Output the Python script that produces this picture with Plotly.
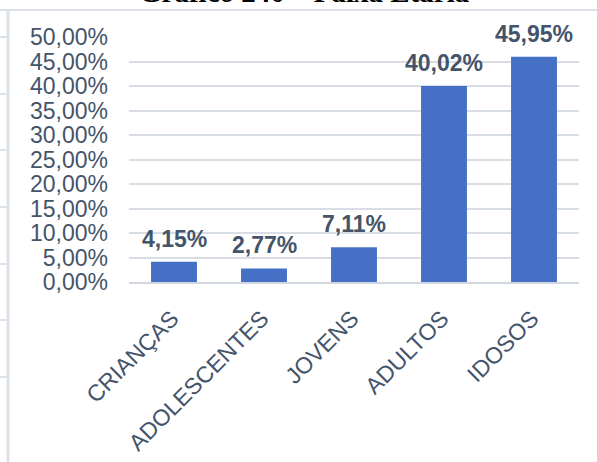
import plotly.graph_objects as go

categories = ["CRIANÇAS", "ADOLESCENTES", "JOVENS", "ADULTOS", "IDOSOS"]
values = [4.15, 2.77, 7.11, 40.02, 45.95]
title_text = "Gráfico 240 – Faixa Etária"

W, H = 597, 462
ML, MR, MT, MB = 129, 18, 37, 180
PW, PH = W - ML - MR, H - MT - MB

def px_x(px):
    return (px - ML) / PW

def px_y(py):
    return 1 - (py - MT) / PH

TEXT = "#44546A"
GRID = "#D9DEE6"
DECOR = "#DCE1E8"
BAR = "#4670C6"

fig = go.Figure()
fig.add_trace(go.Bar(
    x=categories, y=values,
    marker=dict(color=BAR, line=dict(width=0)),
    hoverinfo="skip",
))

annotations = []
for c, v in zip(categories, values):
    annotations.append(dict(
        x=c, y=v, xref="x", yref="y", text=f"{v:.2f}%".replace(".", ","),
        showarrow=False, yanchor="bottom", yshift=8,
        font=dict(family="Liberation Sans, Arial", size=23, color=TEXT, weight="bold"),
    ))
annotations.append(dict(
    x=px_x(304), y=1, xref="paper", yref="paper", text=title_text,
    showarrow=False, yanchor="bottom", yshift=27,
    font=dict(family="Liberation Serif, Times New Roman", size=29, color="#000000", weight="bold"),
))

shapes = []
# document frame lines
shapes.append(dict(type="line", xref="paper", yref="paper",
                   x0=px_x(8), x1=px_x(8), y0=px_y(10), y1=px_y(470),
                   line=dict(color=DECOR, width=3)))
shapes.append(dict(type="line", xref="paper", yref="paper",
                   x0=px_x(0), x1=px_x(600), y0=px_y(10), y1=px_y(10),
                   line=dict(color=DECOR, width=2)))
for py in [37, 94, 150, 207, 264, 320, 377]:
    shapes.append(dict(type="line", xref="paper", yref="paper",
                       x0=px_x(0), x1=px_x(8), y0=px_y(py), y1=px_y(py),
                       line=dict(color=DECOR, width=2)))

fig.update_layout(
    width=W, height=H,
    margin=dict(l=ML, r=MR, t=MT, b=MB, pad=0, autoexpand=False),
    paper_bgcolor="white", plot_bgcolor="white",
    separators=",.",
    showlegend=False,
    bargap=0.49,
    font=dict(family="Liberation Sans, Arial", size=23, color=TEXT),
    annotations=annotations,
    shapes=shapes,
    xaxis=dict(
        tickangle=-45, showgrid=False, showline=True, linecolor="#D0D7E0", linewidth=2,
        ticks="", tickfont=dict(size=23, color=TEXT), fixedrange=True,
        ticklabelstandoff=12, ticklabelshift=-2, automargin=False,
    ),
    yaxis=dict(
        range=[0, 50], dtick=5, tickformat=".2f", ticksuffix="%",
        showgrid=True, gridcolor=GRID, gridwidth=2, zeroline=False,
        showline=False, ticks="", ticklabelstandoff=20, automargin=False,
        tickfont=dict(size=23, color=TEXT), fixedrange=True,
    ),
)

fig.write_html(
    "out.html",
    config={"displayModeBar": False},
    post_script="document.body.style.margin='0';document.body.style.overflow='hidden';",
)
